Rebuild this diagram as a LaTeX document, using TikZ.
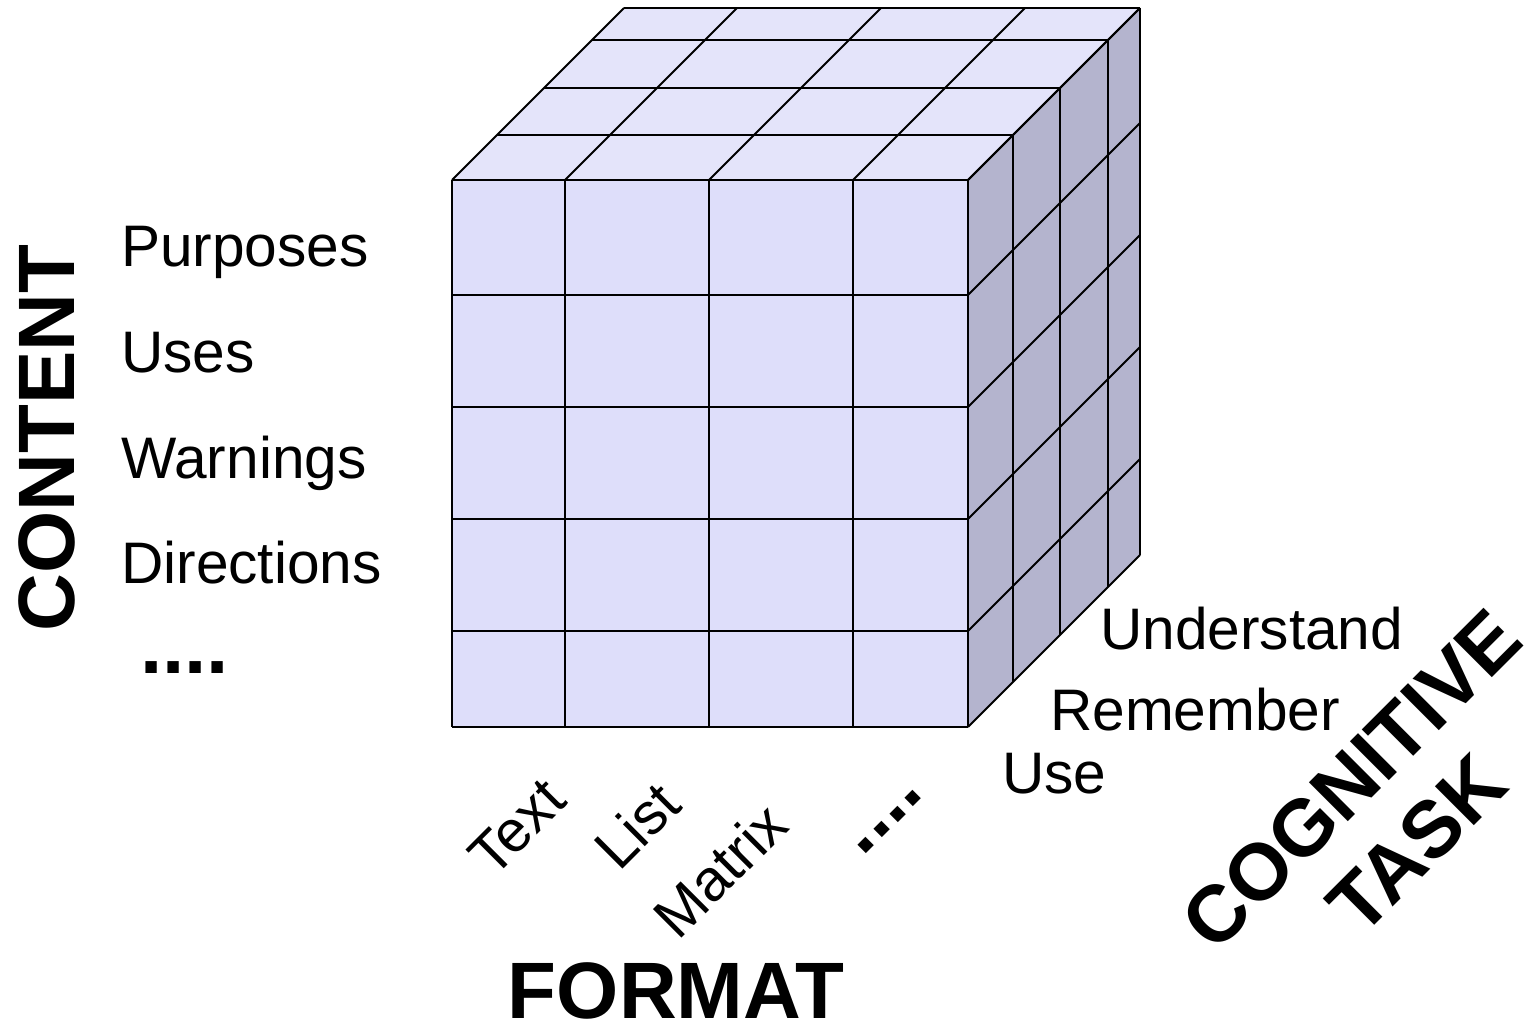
\documentclass[tikz,border=0pt]{standalone}
\usepackage{fontspec}
\setmainfont{Liberation Sans}
\begin{document}
\begin{tikzpicture}[x=1pt,y=-1pt,
  grid/.style={draw=black,line width=1.8pt,line join=round},
  lbl/.style={inner sep=0pt,font=\fontsize{58.6}{66}\selectfont},
  axis/.style={inner sep=0pt,font=\fontsize{80}{92}\selectfont\bfseries},
]
\definecolor{frontc}{RGB}{222,222,250}
\definecolor{topc}{RGB}{228,228,250}
\definecolor{sidec}{RGB}{180,180,206}
\useasboundingbox (0,0) rectangle (1524,1027);
% faces
\fill[frontc] (452,180) rectangle (968,727);
\fill[topc] (452,180) -- (624,8) -- (1140,8) -- (968,180) -- cycle;
\fill[sidec] (968,180) -- (1140,8) -- (1140,555) -- (968,727) -- cycle;
% front grid
\foreach \x in {452,565,709,853,968} \draw[grid] (\x,180) -- (\x,727);
\foreach \y in {180,295,407,519,631,727} \draw[grid] (452,\y) -- (968,\y);
% top grid
\foreach \d in {45,92,140,172} \draw[grid] ({452+\d},{180-\d}) -- ({968+\d},{180-\d});
\foreach \x in {452,565,709,853,968} \draw[grid] (\x,180) -- ({\x+172},8);
% right grid
\foreach \d in {45,92,140,172} \draw[grid] ({968+\d},{180-\d}) -- ({968+\d},{727-\d});
\foreach \y in {180,295,407,519,631,727} \draw[grid] (968,\y) -- (1140,{\y-172});
% content labels
\node[axis,rotate=90] (content) at (47,438) {CONTENT};
\node[lbl,anchor=base west] (purp) at (121,266) {Purposes};
\node[lbl,anchor=base west] (uses) at (121,372) {Uses};
\node[lbl,anchor=base west] (warn) at (121,478) {Warnings};
\node[lbl,anchor=base west] (dir) at (121,583) {Directions};
\node[axis,anchor=base west] (cdots) at (140,673) {....};
% format labels
\node[lbl,rotate=45] (text) at (517,827) {Text};
\node[lbl,rotate=45] (list) at (637,825) {List};
\node[lbl,rotate=45] (matrix) at (720,870) {Matrix};
\node[axis,rotate=45] (fdots) at (890,822) {....};
\node[axis] (format) at (676,991) {FORMAT};
% cognitive labels
\node[lbl,anchor=base west] (use) at (1002,793) {Use};
\node[lbl,anchor=base west] (rem) at (1050,730) {Remember};
\node[lbl,anchor=base west] (und) at (1100,649) {Understand};
\node[axis,rotate=45,align=center] (cog) at (1384,812) {COGNITIVE\\TASK};
\end{tikzpicture}
\end{document}
